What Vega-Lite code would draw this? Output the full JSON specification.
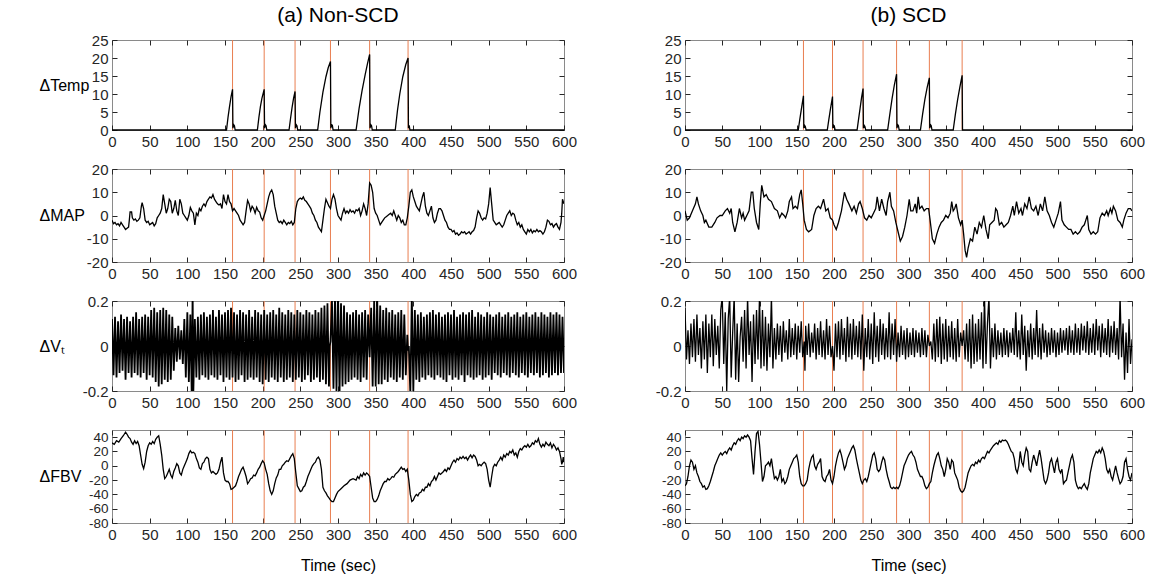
{
"$schema":"https://vega.github.io/schema/vega-lite/v6.json",
"padding":{"left":38,"top":4,"right":5,"bottom":5},
"config":{
"font":"Liberation Sans",
"view":{"stroke":"#8a8a8a","strokeWidth":1},
"axis":{"labelFont":"Liberation Sans","titleFont":"Liberation Sans","labelFontSize":15,"titleFontSize":16,"titleFontWeight":"normal","labelColor":"#262626","titleColor":"#000000","tickColor":"#262626","tickSize":-5,"tickWidth":1,"labelPadding":9,"domain":false,"grid":false,"labelFlush":false,"labelOverlap":false,"labelExpr":"replace(datum.label,'\u2212','-')"},
"axisY":{"titleAngle":0,"titleAlign":"left","titleBaseline":"middle","titleX":-73,"titleY":45},
"axisX":{"titlePadding":15},
"title":{"font":"Liberation Sans","fontSize":21,"fontWeight":"normal","color":"#000000"}
},
"datasets":{
"evA":[{"t":160},{"t":202},{"t":243},{"t":290},{"t":342},{"t":393}],
"evB":[{"t":159},{"t":198},{"t":239},{"t":284},{"t":328},{"t":372}],
"tempA":[{"t":0,"v":0},{"t":152,"v":0},{"t":154,"v":3.5},{"t":156,"v":6.5},{"t":158,"v":9.2},{"t":160,"v":11.3},{"t":160.5,"v":0.5},{"t":161.5,"v":1.5},{"t":162.5,"v":1.2},{"t":163.5,"v":0},{"t":193,"v":0},{"t":195,"v":3.5},{"t":197,"v":6.5},{"t":199,"v":8.8},{"t":202,"v":11.3},{"t":202.5,"v":0.5},{"t":203.5,"v":1.5},{"t":204.5,"v":1.2},{"t":205.5,"v":0},{"t":235,"v":0},{"t":237,"v":3.2},{"t":239,"v":6.2},{"t":241,"v":8.8},{"t":243,"v":10.7},{"t":243.5,"v":0.5},{"t":244.5,"v":1.5},{"t":245.5,"v":1.2},{"t":246.5,"v":0},{"t":273,"v":0},{"t":276,"v":5},{"t":280,"v":10.5},{"t":284,"v":14.8},{"t":287,"v":17.3},{"t":290,"v":19},{"t":290.5,"v":0.5},{"t":291.5,"v":1.5},{"t":292.5,"v":1.3},{"t":293.5,"v":0},{"t":324,"v":0},{"t":328,"v":6},{"t":332,"v":11},{"t":336,"v":15.3},{"t":339,"v":18.3},{"t":342,"v":21},{"t":342.5,"v":0.5},{"t":343.5,"v":1.5},{"t":344.5,"v":1.2},{"t":345.5,"v":0},{"t":376,"v":0},{"t":379,"v":5.5},{"t":382,"v":10},{"t":386,"v":14.8},{"t":390,"v":18.2},{"t":393,"v":20},{"t":393.5,"v":0.5},{"t":394.5,"v":1.3},{"t":395.5,"v":0},{"t":600,"v":0}],
"tempB":[{"t":0,"v":0},{"t":152,"v":0},{"t":154,"v":2.8},{"t":156,"v":5.5},{"t":158,"v":8.2},{"t":159,"v":9.5},{"t":159.5,"v":0.5},{"t":160.5,"v":1.3},{"t":161.5,"v":1},{"t":162.5,"v":0},{"t":191,"v":0},{"t":193,"v":2.8},{"t":195,"v":5.5},{"t":197,"v":8},{"t":198,"v":9.3},{"t":198.5,"v":0.5},{"t":199.5,"v":1.3},{"t":200.5,"v":1},{"t":201.5,"v":0},{"t":231,"v":0},{"t":233,"v":3},{"t":235,"v":6},{"t":237,"v":9},{"t":239,"v":11.5},{"t":239.5,"v":0.5},{"t":240.5,"v":1.3},{"t":241.5,"v":1},{"t":242.5,"v":0},{"t":272,"v":0},{"t":275,"v":4.5},{"t":278,"v":8.8},{"t":281,"v":12.5},{"t":284,"v":15.5},{"t":284.5,"v":0.5},{"t":285.5,"v":1.5},{"t":286.5,"v":1.2},{"t":287.5,"v":0},{"t":316,"v":0},{"t":319,"v":4.5},{"t":322,"v":8.5},{"t":325,"v":11.8},{"t":328,"v":14.5},{"t":328.5,"v":0.5},{"t":329.5,"v":1.5},{"t":330.5,"v":1.2},{"t":331.5,"v":0},{"t":360,"v":0},{"t":363,"v":4.5},{"t":366,"v":8.5},{"t":369,"v":12},{"t":372,"v":15.2},{"t":372.5,"v":0},{"t":600,"v":0}],
"mapA":[{"t":0,"v":-2},{"t":2,"v":-3.5},{"t":4,"v":-3},{"t":6,"v":-4},{"t":8,"v":-3.5},{"t":10,"v":-4.5},{"t":12,"v":-3},{"t":14,"v":-4},{"t":16,"v":-5},{"t":18,"v":-6},{"t":20,"v":-5.5},{"t":22,"v":-5},{"t":23,"v":-2},{"t":24,"v":1.5},{"t":26,"v":1.5},{"t":27,"v":-1},{"t":29,"v":-2},{"t":31,"v":-1.5},{"t":33,"v":-2.5},{"t":35,"v":-2},{"t":37,"v":-1},{"t":39,"v":4},{"t":40,"v":5.5},{"t":42,"v":3},{"t":44,"v":-2},{"t":46,"v":-3},{"t":48,"v":-2.5},{"t":50,"v":-4},{"t":52,"v":-3.5},{"t":54,"v":-3},{"t":56,"v":-4.5},{"t":58,"v":-3.5},{"t":60,"v":-1},{"t":62,"v":0},{"t":64,"v":1},{"t":66,"v":3},{"t":68,"v":9},{"t":70,"v":5},{"t":72,"v":1},{"t":74,"v":3},{"t":76,"v":7},{"t":78,"v":6},{"t":80,"v":1},{"t":82,"v":3},{"t":84,"v":6.5},{"t":86,"v":2},{"t":88,"v":0},{"t":90,"v":7},{"t":92,"v":5},{"t":94,"v":1},{"t":96,"v":0},{"t":98,"v":-1},{"t":100,"v":-2},{"t":102,"v":0},{"t":104,"v":3.5},{"t":106,"v":2},{"t":108,"v":1},{"t":110,"v":-4},{"t":112,"v":1},{"t":114,"v":0},{"t":116,"v":3},{"t":118,"v":2},{"t":120,"v":4},{"t":122,"v":5},{"t":124,"v":4},{"t":126,"v":6},{"t":128,"v":7},{"t":130,"v":8},{"t":132,"v":7.5},{"t":134,"v":9},{"t":136,"v":7},{"t":138,"v":6},{"t":140,"v":5},{"t":142,"v":4.5},{"t":144,"v":5},{"t":146,"v":3},{"t":148,"v":9},{"t":150,"v":6},{"t":152,"v":5},{"t":154,"v":9},{"t":156,"v":6},{"t":158,"v":5},{"t":160,"v":2},{"t":162,"v":3},{"t":164,"v":2},{"t":166,"v":1},{"t":168,"v":0},{"t":170,"v":-2},{"t":172,"v":-3},{"t":174,"v":-4},{"t":176,"v":-3},{"t":178,"v":2},{"t":180,"v":6.5},{"t":182,"v":5},{"t":184,"v":2},{"t":186,"v":4},{"t":188,"v":3},{"t":190,"v":1},{"t":192,"v":3.5},{"t":194,"v":2},{"t":196,"v":1.5},{"t":198,"v":-1},{"t":200,"v":-2},{"t":202,"v":0},{"t":204,"v":2},{"t":206,"v":5},{"t":208,"v":8},{"t":210,"v":10},{"t":212,"v":11},{"t":214,"v":9},{"t":216,"v":4},{"t":218,"v":1},{"t":220,"v":-2},{"t":222,"v":-3},{"t":224,"v":-2.5},{"t":226,"v":-3.5},{"t":228,"v":-2},{"t":230,"v":-3},{"t":232,"v":-4},{"t":234,"v":-3},{"t":236,"v":-3.5},{"t":238,"v":-2.5},{"t":240,"v":-4},{"t":242,"v":-3},{"t":244,"v":3},{"t":246,"v":6},{"t":248,"v":7},{"t":250,"v":7.5},{"t":252,"v":7},{"t":254,"v":8},{"t":256,"v":6.5},{"t":258,"v":6},{"t":260,"v":5},{"t":262,"v":4},{"t":264,"v":3},{"t":266,"v":1},{"t":268,"v":0},{"t":270,"v":-2},{"t":272,"v":-3},{"t":274,"v":-5},{"t":276,"v":-6},{"t":278,"v":-7},{"t":280,"v":-2},{"t":282,"v":3},{"t":284,"v":7},{"t":286,"v":5.5},{"t":288,"v":4},{"t":290,"v":3},{"t":292,"v":7},{"t":294,"v":9},{"t":296,"v":7},{"t":298,"v":3},{"t":300,"v":0},{"t":302,"v":-1},{"t":304,"v":-2},{"t":306,"v":1},{"t":308,"v":3},{"t":310,"v":1},{"t":312,"v":2},{"t":314,"v":1},{"t":316,"v":2.5},{"t":318,"v":1.5},{"t":320,"v":2},{"t":322,"v":1},{"t":324,"v":2.5},{"t":326,"v":2},{"t":328,"v":3},{"t":330,"v":0},{"t":332,"v":2},{"t":334,"v":5},{"t":336,"v":3},{"t":338,"v":0},{"t":340,"v":5},{"t":342,"v":14},{"t":344,"v":13},{"t":346,"v":10},{"t":348,"v":3},{"t":350,"v":1},{"t":352,"v":0},{"t":354,"v":-2},{"t":356,"v":-4},{"t":358,"v":-3},{"t":360,"v":-2},{"t":362,"v":-1},{"t":364,"v":-0.5},{"t":366,"v":0},{"t":368,"v":0.5},{"t":370,"v":1},{"t":372,"v":0},{"t":374,"v":2},{"t":376,"v":0},{"t":378,"v":-2},{"t":380,"v":0},{"t":382,"v":-1},{"t":384,"v":-3},{"t":386,"v":-2},{"t":388,"v":-4},{"t":390,"v":-4},{"t":392,"v":-1},{"t":394,"v":4},{"t":396,"v":10},{"t":398,"v":11},{"t":400,"v":8},{"t":402,"v":6},{"t":404,"v":4},{"t":406,"v":3},{"t":408,"v":2},{"t":410,"v":5},{"t":412,"v":8},{"t":414,"v":10},{"t":416,"v":4},{"t":418,"v":1},{"t":420,"v":0},{"t":422,"v":2},{"t":424,"v":4},{"t":426,"v":-1},{"t":428,"v":-3},{"t":430,"v":-2},{"t":432,"v":1},{"t":434,"v":3},{"t":436,"v":3},{"t":438,"v":2},{"t":440,"v":0},{"t":442,"v":-2},{"t":444,"v":-3},{"t":446,"v":-5},{"t":448,"v":-6},{"t":450,"v":-6},{"t":452,"v":-7},{"t":454,"v":-6.5},{"t":456,"v":-8},{"t":458,"v":-7.5},{"t":460,"v":-8.5},{"t":462,"v":-8},{"t":464,"v":-7},{"t":466,"v":-7.5},{"t":468,"v":-7},{"t":470,"v":-8},{"t":472,"v":-7.5},{"t":474,"v":-7},{"t":476,"v":-8},{"t":478,"v":-7},{"t":480,"v":-6.5},{"t":482,"v":-5},{"t":484,"v":-1},{"t":486,"v":2},{"t":488,"v":1},{"t":490,"v":-1},{"t":492,"v":-2},{"t":494,"v":-1},{"t":496,"v":-1.5},{"t":498,"v":1},{"t":500,"v":5},{"t":502,"v":12},{"t":504,"v":5},{"t":506,"v":-2},{"t":508,"v":-3},{"t":510,"v":-4},{"t":512,"v":-3.5},{"t":514,"v":-3},{"t":516,"v":-4},{"t":518,"v":-5},{"t":520,"v":-4},{"t":522,"v":-2},{"t":524,"v":0},{"t":526,"v":1},{"t":528,"v":2},{"t":530,"v":0},{"t":532,"v":1},{"t":534,"v":0.5},{"t":536,"v":-2},{"t":538,"v":-4},{"t":540,"v":-3},{"t":542,"v":-5},{"t":544,"v":-4},{"t":546,"v":-6},{"t":548,"v":-7},{"t":550,"v":-8},{"t":552,"v":-6},{"t":554,"v":-7},{"t":556,"v":-6},{"t":558,"v":-7.5},{"t":560,"v":-6.5},{"t":562,"v":-7},{"t":564,"v":-6},{"t":566,"v":-7},{"t":568,"v":-6.5},{"t":570,"v":-7},{"t":572,"v":-8},{"t":574,"v":-7},{"t":576,"v":-5},{"t":578,"v":-2},{"t":580,"v":-2.5},{"t":582,"v":-4},{"t":584,"v":-3.5},{"t":586,"v":-5},{"t":588,"v":-4},{"t":590,"v":-3.5},{"t":592,"v":-5},{"t":594,"v":-6},{"t":596,"v":-3},{"t":597,"v":1},{"t":598,"v":7},{"t":599,"v":6},{"t":600,"v":5}],
"mapB":[{"t":0,"v":2},{"t":3,"v":-2},{"t":6,"v":-1},{"t":10,"v":2},{"t":14,"v":5},{"t":16,"v":8},{"t":18,"v":5},{"t":21,"v":2},{"t":24,"v":0},{"t":26,"v":-3},{"t":28,"v":-2},{"t":32,"v":-5},{"t":36,"v":-5},{"t":40,"v":-3},{"t":43,"v":-1},{"t":47,"v":0},{"t":50,"v":0},{"t":54,"v":2},{"t":57,"v":3},{"t":60,"v":1},{"t":62,"v":3},{"t":64,"v":-3},{"t":67,"v":-7},{"t":70,"v":-3},{"t":73,"v":3},{"t":76,"v":-1},{"t":78,"v":1},{"t":80,"v":-2},{"t":83,"v":0},{"t":86,"v":2},{"t":89,"v":10},{"t":91,"v":10},{"t":93,"v":3},{"t":96,"v":-3},{"t":99,"v":-6},{"t":101,"v":5},{"t":103,"v":13},{"t":106,"v":8},{"t":109,"v":9},{"t":112,"v":7},{"t":116,"v":6},{"t":120,"v":3},{"t":124,"v":2},{"t":127,"v":-1},{"t":130,"v":1},{"t":133,"v":0},{"t":135,"v":-1},{"t":138,"v":2},{"t":140,"v":6},{"t":143,"v":8},{"t":145,"v":3},{"t":148,"v":4},{"t":151,"v":3},{"t":154,"v":9},{"t":156,"v":11},{"t":158,"v":5},{"t":160,"v":-2},{"t":163,"v":-6},{"t":166,"v":-7},{"t":170,"v":-6},{"t":173,"v":0},{"t":176,"v":3},{"t":179,"v":4},{"t":182,"v":3},{"t":186,"v":7},{"t":189,"v":2},{"t":192,"v":3},{"t":195,"v":-1},{"t":198,"v":-2},{"t":200,"v":-4},{"t":203,"v":-6},{"t":206,"v":-3},{"t":210,"v":2},{"t":214,"v":10},{"t":217,"v":7},{"t":220,"v":5},{"t":224,"v":2},{"t":227,"v":4},{"t":230,"v":1},{"t":233,"v":5},{"t":235,"v":6},{"t":238,"v":3},{"t":241,"v":-1},{"t":244,"v":-2},{"t":247,"v":0},{"t":250,"v":-1},{"t":253,"v":1},{"t":256,"v":3},{"t":258,"v":8},{"t":261,"v":2},{"t":264,"v":7},{"t":267,"v":3},{"t":270,"v":0},{"t":272,"v":6},{"t":275,"v":10},{"t":277,"v":4},{"t":280,"v":2},{"t":283,"v":-3},{"t":286,"v":-7},{"t":289,"v":-11},{"t":292,"v":-9},{"t":295,"v":-5},{"t":298,"v":0},{"t":301,"v":7},{"t":303,"v":2},{"t":306,"v":2},{"t":309,"v":5},{"t":311,"v":1},{"t":313,"v":8},{"t":315,"v":3},{"t":318,"v":4},{"t":321,"v":2},{"t":324,"v":3},{"t":327,"v":3},{"t":329,"v":-2},{"t":332,"v":-10},{"t":335,"v":-12},{"t":338,"v":-8},{"t":341,"v":-5},{"t":344,"v":-3},{"t":347,"v":-2},{"t":350,"v":0},{"t":353,"v":-1},{"t":356,"v":1},{"t":358,"v":6},{"t":360,"v":2},{"t":362,"v":3},{"t":364,"v":5},{"t":367,"v":-1},{"t":370,"v":-4},{"t":372,"v":-2},{"t":374,"v":-8},{"t":376,"v":-15},{"t":378,"v":-18},{"t":380,"v":-14},{"t":383,"v":-10},{"t":386,"v":-11},{"t":389,"v":-5},{"t":392,"v":-8},{"t":395,"v":-3},{"t":398,"v":-5},{"t":401,"v":0},{"t":404,"v":-6},{"t":407,"v":-10},{"t":409,"v":-4},{"t":412,"v":-3},{"t":415,"v":-2},{"t":417,"v":3},{"t":419,"v":2},{"t":422,"v":-4},{"t":425,"v":-3},{"t":428,"v":-5},{"t":431,"v":-4},{"t":434,"v":-3},{"t":437,"v":0},{"t":440,"v":4},{"t":442,"v":0},{"t":445,"v":6},{"t":448,"v":1},{"t":451,"v":3},{"t":453,"v":0},{"t":456,"v":5},{"t":459,"v":3},{"t":462,"v":8},{"t":465,"v":3},{"t":468,"v":2},{"t":471,"v":4},{"t":474,"v":0},{"t":477,"v":5},{"t":480,"v":2},{"t":483,"v":8},{"t":486,"v":2},{"t":489,"v":0},{"t":492,"v":-3},{"t":495,"v":-5},{"t":498,"v":-2},{"t":501,"v":1},{"t":504,"v":6},{"t":506,"v":-2},{"t":509,"v":-4},{"t":512,"v":-5},{"t":515,"v":-6},{"t":518,"v":-6},{"t":521,"v":-8},{"t":524,"v":-7},{"t":527,"v":-8},{"t":530,"v":-7},{"t":533,"v":-5},{"t":536,"v":-4},{"t":538,"v":-2},{"t":540,"v":0},{"t":542,"v":-6},{"t":545,"v":-8},{"t":548,"v":-7},{"t":551,"v":-8},{"t":554,"v":-7},{"t":557,"v":-1},{"t":560,"v":1},{"t":563,"v":0},{"t":566,"v":2},{"t":568,"v":0},{"t":571,"v":3},{"t":573,"v":1},{"t":575,"v":4},{"t":578,"v":2},{"t":581,"v":-2},{"t":584,"v":-3},{"t":587,"v":-5},{"t":589,"v":-2},{"t":592,"v":1},{"t":595,"v":3},{"t":598,"v":3},{"t":600,"v":2}],
"vtA":[{"t":0,"v":0.12},{"t":2,"v":-0.13},{"t":4,"v":0.13},{"t":6,"v":-0.14},{"t":8,"v":0.11},{"t":10,"v":-0.12},{"t":12,"v":0.14},{"t":14,"v":-0.11},{"t":16,"v":0.12},{"t":18,"v":-0.15},{"t":20,"v":0.13},{"t":22,"v":-0.12},{"t":24,"v":0.11},{"t":26,"v":-0.14},{"t":28,"v":0.13},{"t":30,"v":-0.12},{"t":32,"v":0.15},{"t":34,"v":-0.13},{"t":36,"v":0.12},{"t":38,"v":-0.14},{"t":40,"v":0.13},{"t":42,"v":-0.12},{"t":44,"v":0.14},{"t":46,"v":-0.15},{"t":48,"v":0.13},{"t":50,"v":-0.13},{"t":52,"v":0.16},{"t":54,"v":-0.14},{"t":56,"v":0.17},{"t":58,"v":-0.16},{"t":60,"v":0.15},{"t":62,"v":-0.18},{"t":64,"v":0.16},{"t":66,"v":-0.17},{"t":68,"v":0.17},{"t":70,"v":-0.15},{"t":72,"v":0.16},{"t":74,"v":-0.16},{"t":76,"v":0.14},{"t":78,"v":-0.15},{"t":80,"v":0.13},{"t":82,"v":-0.11},{"t":84,"v":0.08},{"t":86,"v":-0.07},{"t":88,"v":0.09},{"t":90,"v":-0.06},{"t":92,"v":0.07},{"t":94,"v":-0.08},{"t":96,"v":0.12},{"t":98,"v":-0.14},{"t":100,"v":0.15},{"t":102,"v":-0.16},{"t":104,"v":0.14},{"t":106,"v":-0.25},{"t":107,"v":0.25},{"t":108,"v":-0.2},{"t":110,"v":0.12},{"t":112,"v":-0.14},{"t":114,"v":0.13},{"t":116,"v":-0.15},{"t":118,"v":0.14},{"t":120,"v":-0.13},{"t":122,"v":0.15},{"t":124,"v":-0.14},{"t":126,"v":0.13},{"t":128,"v":-0.15},{"t":130,"v":0.14},{"t":132,"v":-0.13},{"t":134,"v":0.16},{"t":136,"v":-0.14},{"t":138,"v":0.13},{"t":140,"v":-0.15},{"t":142,"v":0.16},{"t":144,"v":-0.13},{"t":146,"v":0.14},{"t":148,"v":-0.16},{"t":150,"v":0.15},{"t":152,"v":-0.14},{"t":154,"v":0.16},{"t":156,"v":-0.15},{"t":158,"v":0.17},{"t":160,"v":-0.14},{"t":162,"v":0.15},{"t":164,"v":-0.16},{"t":166,"v":0.14},{"t":168,"v":-0.15},{"t":170,"v":0.16},{"t":172,"v":-0.13},{"t":174,"v":0.15},{"t":176,"v":-0.16},{"t":178,"v":0.14},{"t":180,"v":-0.15},{"t":182,"v":0.16},{"t":184,"v":-0.14},{"t":186,"v":0.13},{"t":188,"v":-0.15},{"t":190,"v":0.16},{"t":192,"v":-0.14},{"t":194,"v":0.15},{"t":196,"v":-0.16},{"t":198,"v":0.14},{"t":200,"v":-0.17},{"t":202,"v":0.16},{"t":204,"v":-0.15},{"t":206,"v":0.14},{"t":208,"v":-0.16},{"t":210,"v":0.15},{"t":212,"v":-0.14},{"t":214,"v":0.16},{"t":216,"v":-0.15},{"t":218,"v":0.14},{"t":220,"v":-0.16},{"t":222,"v":0.17},{"t":224,"v":-0.14},{"t":226,"v":0.15},{"t":228,"v":-0.16},{"t":230,"v":0.14},{"t":232,"v":-0.15},{"t":234,"v":0.16},{"t":236,"v":-0.14},{"t":238,"v":0.15},{"t":240,"v":-0.16},{"t":242,"v":0.14},{"t":244,"v":-0.15},{"t":246,"v":0.16},{"t":248,"v":-0.14},{"t":250,"v":0.15},{"t":252,"v":-0.16},{"t":254,"v":0.14},{"t":256,"v":-0.15},{"t":258,"v":0.16},{"t":260,"v":-0.13},{"t":262,"v":0.15},{"t":264,"v":-0.16},{"t":266,"v":0.14},{"t":268,"v":-0.15},{"t":270,"v":0.16},{"t":272,"v":-0.14},{"t":274,"v":0.15},{"t":276,"v":-0.16},{"t":278,"v":0.17},{"t":280,"v":-0.15},{"t":282,"v":0.18},{"t":284,"v":-0.17},{"t":286,"v":0.19},{"t":288,"v":-0.18},{"t":289,"v":0},{"t":290,"v":0.02},{"t":292,"v":0.2},{"t":294,"v":-0.19},{"t":296,"v":0.22},{"t":298,"v":-0.2},{"t":300,"v":0.25},{"t":302,"v":-0.22},{"t":304,"v":0.19},{"t":306,"v":-0.18},{"t":308,"v":0.18},{"t":310,"v":-0.17},{"t":312,"v":0.15},{"t":314,"v":-0.16},{"t":316,"v":0.14},{"t":318,"v":-0.15},{"t":320,"v":0.15},{"t":322,"v":-0.14},{"t":324,"v":0.16},{"t":326,"v":-0.15},{"t":328,"v":0.14},{"t":330,"v":-0.16},{"t":332,"v":0.15},{"t":334,"v":-0.14},{"t":336,"v":0.16},{"t":338,"v":-0.15},{"t":340,"v":0.14},{"t":342,"v":-0.05},{"t":344,"v":0.17},{"t":346,"v":-0.18},{"t":348,"v":0.2},{"t":350,"v":-0.18},{"t":352,"v":0.22},{"t":354,"v":-0.17},{"t":356,"v":0.18},{"t":358,"v":-0.17},{"t":360,"v":0.16},{"t":362,"v":-0.15},{"t":364,"v":0.17},{"t":366,"v":-0.16},{"t":368,"v":0.15},{"t":370,"v":-0.14},{"t":372,"v":0.16},{"t":374,"v":-0.15},{"t":376,"v":0.14},{"t":378,"v":-0.16},{"t":380,"v":0.15},{"t":382,"v":-0.14},{"t":384,"v":0.16},{"t":386,"v":-0.15},{"t":388,"v":0.14},{"t":390,"v":-0.13},{"t":392,"v":0.05},{"t":393,"v":-0.02},{"t":394,"v":0},{"t":396,"v":-0.21},{"t":398,"v":0.22},{"t":400,"v":-0.2},{"t":402,"v":0.16},{"t":404,"v":-0.15},{"t":406,"v":0.14},{"t":408,"v":-0.16},{"t":410,"v":0.15},{"t":412,"v":-0.14},{"t":414,"v":0.13},{"t":416,"v":-0.15},{"t":418,"v":0.14},{"t":420,"v":-0.13},{"t":422,"v":0.15},{"t":424,"v":-0.14},{"t":426,"v":0.16},{"t":428,"v":-0.15},{"t":430,"v":0.14},{"t":432,"v":-0.13},{"t":434,"v":0.15},{"t":436,"v":-0.14},{"t":438,"v":0.13},{"t":440,"v":-0.15},{"t":442,"v":0.14},{"t":444,"v":-0.16},{"t":446,"v":0.15},{"t":448,"v":-0.13},{"t":450,"v":0.14},{"t":452,"v":-0.15},{"t":454,"v":0.16},{"t":456,"v":-0.14},{"t":458,"v":0.13},{"t":460,"v":-0.15},{"t":462,"v":0.14},{"t":464,"v":-0.13},{"t":466,"v":0.15},{"t":468,"v":-0.16},{"t":470,"v":0.14},{"t":472,"v":-0.13},{"t":474,"v":0.15},{"t":476,"v":-0.14},{"t":478,"v":0.16},{"t":480,"v":-0.15},{"t":482,"v":0.13},{"t":484,"v":-0.14},{"t":486,"v":0.15},{"t":488,"v":-0.13},{"t":490,"v":0.14},{"t":492,"v":-0.15},{"t":494,"v":0.13},{"t":496,"v":-0.14},{"t":498,"v":0.15},{"t":500,"v":-0.13},{"t":502,"v":0.14},{"t":504,"v":-0.15},{"t":506,"v":0.13},{"t":508,"v":-0.12},{"t":510,"v":0.14},{"t":512,"v":-0.13},{"t":514,"v":0.15},{"t":516,"v":-0.14},{"t":518,"v":0.13},{"t":520,"v":-0.12},{"t":522,"v":0.14},{"t":524,"v":-0.13},{"t":526,"v":0.15},{"t":528,"v":-0.14},{"t":530,"v":0.13},{"t":532,"v":-0.12},{"t":534,"v":0.14},{"t":536,"v":-0.13},{"t":538,"v":0.15},{"t":540,"v":-0.14},{"t":542,"v":0.13},{"t":544,"v":-0.12},{"t":546,"v":0.14},{"t":548,"v":-0.13},{"t":550,"v":0.15},{"t":552,"v":-0.14},{"t":554,"v":0.13},{"t":556,"v":-0.12},{"t":558,"v":0.14},{"t":560,"v":-0.13},{"t":562,"v":0.15},{"t":564,"v":-0.12},{"t":566,"v":0.13},{"t":568,"v":-0.14},{"t":570,"v":0.15},{"t":572,"v":-0.13},{"t":574,"v":0.14},{"t":576,"v":-0.12},{"t":578,"v":0.13},{"t":580,"v":-0.14},{"t":582,"v":0.15},{"t":584,"v":-0.13},{"t":586,"v":0.14},{"t":588,"v":-0.12},{"t":590,"v":0.15},{"t":592,"v":-0.13},{"t":594,"v":0.14},{"t":596,"v":-0.12},{"t":598,"v":0.13},{"t":600,"v":-0.12}],
"vtB":[{"t":0,"v":0.17},{"t":2,"v":-0.06},{"t":4,"v":0.07},{"t":6,"v":-0.08},{"t":8,"v":0.1},{"t":10,"v":-0.05},{"t":12,"v":0.12},{"t":14,"v":-0.07},{"t":16,"v":0.14},{"t":18,"v":-0.04},{"t":20,"v":0.08},{"t":22,"v":-0.1},{"t":24,"v":0.11},{"t":26,"v":-0.06},{"t":28,"v":0.14},{"t":30,"v":-0.12},{"t":32,"v":0.1},{"t":34,"v":-0.05},{"t":36,"v":0.14},{"t":38,"v":-0.09},{"t":40,"v":0.12},{"t":42,"v":-0.04},{"t":44,"v":0.09},{"t":46,"v":-0.1},{"t":48,"v":0.16},{"t":50,"v":0.22},{"t":52,"v":-0.08},{"t":54,"v":0.15},{"t":56,"v":-0.2},{"t":58,"v":0.12},{"t":60,"v":0.22},{"t":62,"v":-0.14},{"t":64,"v":0.06},{"t":66,"v":0.22},{"t":68,"v":-0.15},{"t":70,"v":0.1},{"t":72,"v":-0.16},{"t":74,"v":0.04},{"t":76,"v":0.13},{"t":78,"v":-0.07},{"t":80,"v":0.16},{"t":82,"v":-0.1},{"t":84,"v":0.22},{"t":86,"v":-0.04},{"t":88,"v":0.11},{"t":90,"v":-0.16},{"t":92,"v":0.14},{"t":94,"v":-0.08},{"t":96,"v":0.16},{"t":98,"v":-0.06},{"t":100,"v":0.22},{"t":102,"v":-0.1},{"t":104,"v":0.16},{"t":106,"v":-0.09},{"t":108,"v":0.13},{"t":110,"v":-0.11},{"t":112,"v":0.1},{"t":114,"v":-0.05},{"t":116,"v":0.22},{"t":118,"v":-0.1},{"t":120,"v":0.08},{"t":122,"v":-0.06},{"t":124,"v":0.1},{"t":126,"v":-0.04},{"t":128,"v":0.09},{"t":130,"v":-0.07},{"t":132,"v":0.11},{"t":134,"v":-0.03},{"t":136,"v":0.07},{"t":138,"v":-0.06},{"t":140,"v":0.12},{"t":142,"v":-0.05},{"t":144,"v":0.08},{"t":146,"v":-0.04},{"t":148,"v":0.1},{"t":150,"v":-0.06},{"t":152,"v":0.09},{"t":154,"v":-0.03},{"t":156,"v":0.11},{"t":158,"v":-0.05},{"t":160,"v":0.02},{"t":161,"v":-0.11},{"t":162,"v":0.09},{"t":164,"v":-0.04},{"t":166,"v":0.1},{"t":168,"v":-0.05},{"t":170,"v":0.06},{"t":172,"v":-0.03},{"t":174,"v":0.1},{"t":176,"v":-0.06},{"t":178,"v":0.08},{"t":180,"v":-0.04},{"t":182,"v":0.11},{"t":184,"v":-0.05},{"t":186,"v":0.07},{"t":188,"v":-0.06},{"t":190,"v":0.12},{"t":192,"v":-0.04},{"t":194,"v":0.09},{"t":196,"v":-0.05},{"t":198,"v":0},{"t":200,"v":-0.11},{"t":202,"v":0.1},{"t":204,"v":-0.05},{"t":206,"v":0.11},{"t":208,"v":-0.06},{"t":210,"v":0.12},{"t":212,"v":-0.04},{"t":214,"v":0.08},{"t":216,"v":-0.07},{"t":218,"v":0.13},{"t":220,"v":-0.05},{"t":222,"v":0.1},{"t":224,"v":-0.06},{"t":226,"v":0.12},{"t":228,"v":-0.04},{"t":230,"v":0.09},{"t":232,"v":-0.05},{"t":234,"v":0.11},{"t":236,"v":-0.06},{"t":238,"v":0.14},{"t":240,"v":-0.11},{"t":242,"v":0.08},{"t":244,"v":-0.05},{"t":246,"v":0.12},{"t":248,"v":-0.06},{"t":250,"v":0.1},{"t":252,"v":-0.08},{"t":254,"v":0.15},{"t":256,"v":-0.05},{"t":258,"v":0.09},{"t":260,"v":-0.07},{"t":262,"v":0.12},{"t":264,"v":-0.04},{"t":266,"v":0.1},{"t":268,"v":-0.06},{"t":270,"v":0.08},{"t":272,"v":-0.05},{"t":274,"v":0.15},{"t":276,"v":-0.06},{"t":278,"v":0.1},{"t":280,"v":-0.04},{"t":282,"v":0.12},{"t":284,"v":-0.07},{"t":286,"v":0.06},{"t":288,"v":-0.05},{"t":290,"v":0.09},{"t":292,"v":-0.04},{"t":294,"v":0.07},{"t":296,"v":-0.06},{"t":298,"v":0.08},{"t":300,"v":-0.05},{"t":302,"v":0.06},{"t":304,"v":-0.04},{"t":306,"v":0.08},{"t":308,"v":-0.05},{"t":310,"v":0.07},{"t":312,"v":-0.03},{"t":314,"v":0.06},{"t":316,"v":-0.05},{"t":318,"v":0.08},{"t":320,"v":-0.04},{"t":322,"v":0.07},{"t":324,"v":-0.05},{"t":326,"v":0.05},{"t":328,"v":0},{"t":330,"v":0.02},{"t":332,"v":-0.06},{"t":334,"v":0.1},{"t":336,"v":-0.07},{"t":338,"v":0.12},{"t":340,"v":-0.05},{"t":342,"v":0.13},{"t":344,"v":-0.08},{"t":346,"v":0.1},{"t":348,"v":-0.06},{"t":350,"v":0.12},{"t":352,"v":-0.07},{"t":354,"v":0.09},{"t":356,"v":-0.05},{"t":358,"v":0.11},{"t":360,"v":-0.06},{"t":362,"v":0.08},{"t":364,"v":-0.07},{"t":366,"v":0.12},{"t":368,"v":-0.05},{"t":370,"v":0.06},{"t":372,"v":0},{"t":374,"v":0.07},{"t":376,"v":-0.06},{"t":378,"v":0.1},{"t":380,"v":-0.07},{"t":382,"v":0.12},{"t":384,"v":-0.1},{"t":386,"v":0.14},{"t":388,"v":-0.08},{"t":390,"v":0.1},{"t":392,"v":-0.07},{"t":394,"v":0.12},{"t":396,"v":-0.06},{"t":398,"v":0.15},{"t":400,"v":-0.1},{"t":402,"v":0.22},{"t":404,"v":-0.08},{"t":406,"v":0.1},{"t":408,"v":0.22},{"t":410,"v":-0.1},{"t":412,"v":0.08},{"t":414,"v":-0.05},{"t":416,"v":0.1},{"t":418,"v":-0.06},{"t":420,"v":0.07},{"t":422,"v":-0.04},{"t":424,"v":0.06},{"t":426,"v":-0.05},{"t":428,"v":0.08},{"t":430,"v":-0.04},{"t":432,"v":0.07},{"t":434,"v":-0.05},{"t":436,"v":0.06},{"t":438,"v":-0.03},{"t":440,"v":0.08},{"t":442,"v":-0.04},{"t":444,"v":0.15},{"t":446,"v":-0.05},{"t":448,"v":0.07},{"t":450,"v":-0.06},{"t":452,"v":0.14},{"t":454,"v":-0.04},{"t":456,"v":0.09},{"t":458,"v":-0.11},{"t":460,"v":0.07},{"t":462,"v":-0.05},{"t":464,"v":0.1},{"t":466,"v":-0.06},{"t":468,"v":0.08},{"t":470,"v":-0.04},{"t":472,"v":0.16},{"t":474,"v":-0.05},{"t":476,"v":0.08},{"t":478,"v":-0.06},{"t":480,"v":0.1},{"t":482,"v":-0.03},{"t":484,"v":0.07},{"t":486,"v":-0.05},{"t":488,"v":0.06},{"t":490,"v":-0.04},{"t":492,"v":0.08},{"t":494,"v":-0.03},{"t":496,"v":0.07},{"t":498,"v":-0.05},{"t":500,"v":0.06},{"t":502,"v":-0.04},{"t":504,"v":0.08},{"t":506,"v":-0.03},{"t":508,"v":0.07},{"t":510,"v":-0.02},{"t":512,"v":0.08},{"t":514,"v":-0.04},{"t":516,"v":0.09},{"t":518,"v":-0.03},{"t":520,"v":0.07},{"t":522,"v":-0.04},{"t":524,"v":0.1},{"t":526,"v":-0.03},{"t":528,"v":0.08},{"t":530,"v":-0.04},{"t":532,"v":0.1},{"t":534,"v":-0.02},{"t":536,"v":0.09},{"t":538,"v":-0.03},{"t":540,"v":0.11},{"t":542,"v":-0.04},{"t":544,"v":0.08},{"t":546,"v":-0.03},{"t":548,"v":0.1},{"t":550,"v":-0.04},{"t":552,"v":0.12},{"t":554,"v":-0.02},{"t":556,"v":0.09},{"t":558,"v":-0.05},{"t":560,"v":0.1},{"t":562,"v":-0.03},{"t":564,"v":0.08},{"t":566,"v":-0.04},{"t":568,"v":0.12},{"t":570,"v":-0.05},{"t":572,"v":0.09},{"t":574,"v":-0.03},{"t":576,"v":0.11},{"t":578,"v":-0.04},{"t":580,"v":0.08},{"t":582,"v":-0.06},{"t":584,"v":0.22},{"t":586,"v":-0.05},{"t":588,"v":0.1},{"t":590,"v":-0.15},{"t":592,"v":0.06},{"t":594,"v":-0.12},{"t":596,"v":0.12},{"t":598,"v":-0.08},{"t":600,"v":0.03}],
"fbvA":[{"t":0,"v":32},{"t":3,"v":30},{"t":6,"v":35},{"t":9,"v":33},{"t":12,"v":38},{"t":15,"v":42},{"t":18,"v":47},{"t":20,"v":44},{"t":22,"v":40},{"t":24,"v":38},{"t":26,"v":33},{"t":28,"v":30},{"t":30,"v":35},{"t":32,"v":31},{"t":34,"v":34},{"t":36,"v":28},{"t":38,"v":15},{"t":40,"v":2},{"t":42,"v":-4},{"t":44,"v":5},{"t":46,"v":20},{"t":48,"v":28},{"t":50,"v":32},{"t":52,"v":30},{"t":54,"v":34},{"t":56,"v":31},{"t":58,"v":37},{"t":60,"v":40},{"t":62,"v":42},{"t":64,"v":30},{"t":66,"v":15},{"t":68,"v":-5},{"t":70,"v":-18},{"t":72,"v":-15},{"t":74,"v":-10},{"t":76,"v":-5},{"t":78,"v":-13},{"t":80,"v":-17},{"t":82,"v":-8},{"t":84,"v":-3},{"t":86,"v":3},{"t":88,"v":0},{"t":90,"v":-10},{"t":92,"v":-13},{"t":94,"v":-5},{"t":96,"v":0},{"t":98,"v":5},{"t":100,"v":10},{"t":102,"v":17},{"t":104,"v":21},{"t":106,"v":18},{"t":108,"v":19},{"t":110,"v":17},{"t":112,"v":10},{"t":114,"v":5},{"t":116,"v":-3},{"t":118,"v":-5},{"t":120,"v":3},{"t":122,"v":5},{"t":124,"v":10},{"t":126,"v":12},{"t":128,"v":10},{"t":130,"v":-5},{"t":132,"v":-10},{"t":134,"v":-8},{"t":136,"v":-10},{"t":138,"v":-12},{"t":140,"v":-10},{"t":142,"v":-5},{"t":144,"v":5},{"t":146,"v":12},{"t":148,"v":-10},{"t":150,"v":-20},{"t":152,"v":-22},{"t":154,"v":-22},{"t":156,"v":-25},{"t":158,"v":-33},{"t":160,"v":-32},{"t":162,"v":-30},{"t":164,"v":-28},{"t":166,"v":-22},{"t":168,"v":-15},{"t":170,"v":-10},{"t":172,"v":-5},{"t":174,"v":-2},{"t":176,"v":-8},{"t":178,"v":-15},{"t":180,"v":-25},{"t":182,"v":-22},{"t":184,"v":-18},{"t":186,"v":-17},{"t":188,"v":-13},{"t":190,"v":-14},{"t":192,"v":-10},{"t":194,"v":-5},{"t":196,"v":-2},{"t":198,"v":3},{"t":200,"v":7},{"t":202,"v":4},{"t":204,"v":-5},{"t":206,"v":-12},{"t":208,"v":-25},{"t":210,"v":-35},{"t":212,"v":-40},{"t":214,"v":-35},{"t":216,"v":-25},{"t":218,"v":-17},{"t":220,"v":-13},{"t":222,"v":-5},{"t":224,"v":-5},{"t":226,"v":0},{"t":228,"v":2},{"t":230,"v":5},{"t":232,"v":7},{"t":234,"v":6},{"t":236,"v":10},{"t":238,"v":14},{"t":240,"v":17},{"t":242,"v":10},{"t":244,"v":-10},{"t":246,"v":-28},{"t":248,"v":-32},{"t":250,"v":-36},{"t":252,"v":-35},{"t":254,"v":-30},{"t":256,"v":-28},{"t":258,"v":-22},{"t":260,"v":-15},{"t":262,"v":-10},{"t":264,"v":-5},{"t":266,"v":0},{"t":268,"v":3},{"t":270,"v":5},{"t":272,"v":10},{"t":274,"v":12},{"t":276,"v":8},{"t":278,"v":-5},{"t":280,"v":-30},{"t":282,"v":-35},{"t":284,"v":-38},{"t":286,"v":-42},{"t":288,"v":-45},{"t":290,"v":-48},{"t":292,"v":-50},{"t":294,"v":-50},{"t":296,"v":-45},{"t":298,"v":-40},{"t":300,"v":-36},{"t":304,"v":-32},{"t":308,"v":-28},{"t":312,"v":-25},{"t":316,"v":-20},{"t":320,"v":-18},{"t":324,"v":-20},{"t":326,"v":-15},{"t":328,"v":-18},{"t":330,"v":-12},{"t":332,"v":-15},{"t":334,"v":-10},{"t":336,"v":-13},{"t":338,"v":-10},{"t":340,"v":-12},{"t":342,"v":-15},{"t":344,"v":-30},{"t":346,"v":-45},{"t":348,"v":-50},{"t":350,"v":-50},{"t":352,"v":-47},{"t":354,"v":-42},{"t":356,"v":-35},{"t":358,"v":-30},{"t":360,"v":-25},{"t":362,"v":-22},{"t":364,"v":-22},{"t":366,"v":-18},{"t":368,"v":-20},{"t":370,"v":-18},{"t":372,"v":-15},{"t":374,"v":-16},{"t":376,"v":-12},{"t":378,"v":-10},{"t":380,"v":-8},{"t":382,"v":-5},{"t":384,"v":-2},{"t":386,"v":-5},{"t":388,"v":-4},{"t":390,"v":-8},{"t":392,"v":-5},{"t":394,"v":-20},{"t":396,"v":-40},{"t":398,"v":-50},{"t":400,"v":-48},{"t":402,"v":-43},{"t":404,"v":-40},{"t":406,"v":-42},{"t":408,"v":-38},{"t":410,"v":-37},{"t":412,"v":-33},{"t":414,"v":-35},{"t":416,"v":-30},{"t":418,"v":-30},{"t":420,"v":-25},{"t":422,"v":-28},{"t":424,"v":-22},{"t":426,"v":-20},{"t":428,"v":-15},{"t":430,"v":-20},{"t":432,"v":-15},{"t":434,"v":-10},{"t":436,"v":-12},{"t":438,"v":-10},{"t":440,"v":-8},{"t":442,"v":-5},{"t":444,"v":-8},{"t":446,"v":-3},{"t":448,"v":-5},{"t":450,"v":0},{"t":452,"v":5},{"t":454,"v":8},{"t":456,"v":5},{"t":458,"v":10},{"t":460,"v":8},{"t":462,"v":12},{"t":464,"v":10},{"t":466,"v":13},{"t":468,"v":10},{"t":470,"v":12},{"t":472,"v":8},{"t":474,"v":12},{"t":476,"v":15},{"t":478,"v":11},{"t":480,"v":15},{"t":482,"v":13},{"t":484,"v":8},{"t":486,"v":0},{"t":488,"v":2},{"t":490,"v":0},{"t":492,"v":3},{"t":494,"v":5},{"t":496,"v":3},{"t":498,"v":-5},{"t":500,"v":-20},{"t":502,"v":-30},{"t":504,"v":-15},{"t":506,"v":-2},{"t":508,"v":2},{"t":510,"v":0},{"t":512,"v":5},{"t":514,"v":8},{"t":516,"v":12},{"t":518,"v":8},{"t":520,"v":15},{"t":522,"v":12},{"t":524,"v":17},{"t":526,"v":15},{"t":528,"v":20},{"t":530,"v":18},{"t":532,"v":22},{"t":534,"v":15},{"t":536,"v":18},{"t":538,"v":12},{"t":540,"v":20},{"t":542,"v":24},{"t":544,"v":22},{"t":546,"v":26},{"t":548,"v":28},{"t":550,"v":26},{"t":552,"v":30},{"t":554,"v":26},{"t":556,"v":28},{"t":558,"v":32},{"t":560,"v":30},{"t":562,"v":35},{"t":564,"v":33},{"t":566,"v":38},{"t":568,"v":30},{"t":570,"v":26},{"t":572,"v":30},{"t":574,"v":27},{"t":576,"v":33},{"t":578,"v":30},{"t":580,"v":28},{"t":582,"v":32},{"t":584,"v":25},{"t":586,"v":30},{"t":588,"v":27},{"t":590,"v":22},{"t":592,"v":25},{"t":594,"v":20},{"t":596,"v":10},{"t":597,"v":2},{"t":598,"v":5},{"t":599,"v":12},{"t":600,"v":5}],
"fbvB":[{"t":0,"v":-28},{"t":2,"v":-25},{"t":4,"v":-15},{"t":6,"v":0},{"t":8,"v":8},{"t":10,"v":5},{"t":12,"v":-5},{"t":14,"v":0},{"t":16,"v":-10},{"t":18,"v":-15},{"t":20,"v":-22},{"t":22,"v":-25},{"t":24,"v":-30},{"t":26,"v":-28},{"t":28,"v":-33},{"t":30,"v":-32},{"t":32,"v":-28},{"t":34,"v":-22},{"t":36,"v":-15},{"t":38,"v":-8},{"t":40,"v":0},{"t":42,"v":5},{"t":44,"v":10},{"t":46,"v":15},{"t":48,"v":18},{"t":50,"v":15},{"t":52,"v":18},{"t":54,"v":20},{"t":56,"v":17},{"t":58,"v":22},{"t":60,"v":25},{"t":62,"v":22},{"t":64,"v":28},{"t":66,"v":32},{"t":68,"v":30},{"t":70,"v":35},{"t":72,"v":38},{"t":74,"v":35},{"t":76,"v":40},{"t":78,"v":38},{"t":80,"v":42},{"t":82,"v":40},{"t":84,"v":43},{"t":86,"v":40},{"t":88,"v":35},{"t":90,"v":10},{"t":92,"v":-12},{"t":94,"v":20},{"t":96,"v":45},{"t":98,"v":48},{"t":100,"v":30},{"t":102,"v":5},{"t":104,"v":-22},{"t":106,"v":-15},{"t":108,"v":0},{"t":110,"v":2},{"t":112,"v":5},{"t":114,"v":0},{"t":116,"v":10},{"t":118,"v":-5},{"t":120,"v":-18},{"t":122,"v":-15},{"t":124,"v":-20},{"t":126,"v":-15},{"t":128,"v":-5},{"t":130,"v":-22},{"t":132,"v":-18},{"t":134,"v":-25},{"t":136,"v":-22},{"t":138,"v":-15},{"t":140,"v":-5},{"t":142,"v":0},{"t":144,"v":5},{"t":146,"v":10},{"t":148,"v":12},{"t":150,"v":15},{"t":152,"v":5},{"t":154,"v":-15},{"t":156,"v":-25},{"t":158,"v":-28},{"t":160,"v":-28},{"t":162,"v":-25},{"t":164,"v":-20},{"t":166,"v":-5},{"t":168,"v":5},{"t":170,"v":12},{"t":172,"v":15},{"t":174,"v":0},{"t":176,"v":-5},{"t":178,"v":2},{"t":180,"v":5},{"t":182,"v":10},{"t":184,"v":-15},{"t":186,"v":-20},{"t":188,"v":-22},{"t":190,"v":-15},{"t":192,"v":-12},{"t":194,"v":-5},{"t":196,"v":-20},{"t":198,"v":-25},{"t":200,"v":-15},{"t":202,"v":0},{"t":204,"v":10},{"t":206,"v":18},{"t":208,"v":22},{"t":210,"v":15},{"t":212,"v":5},{"t":214,"v":-5},{"t":216,"v":0},{"t":218,"v":10},{"t":220,"v":15},{"t":222,"v":20},{"t":224,"v":25},{"t":226,"v":28},{"t":228,"v":22},{"t":230,"v":10},{"t":232,"v":0},{"t":234,"v":-10},{"t":236,"v":-20},{"t":238,"v":-25},{"t":240,"v":-20},{"t":242,"v":-18},{"t":244,"v":-22},{"t":246,"v":-15},{"t":248,"v":-5},{"t":250,"v":5},{"t":252,"v":15},{"t":254,"v":18},{"t":256,"v":10},{"t":258,"v":-5},{"t":260,"v":-8},{"t":262,"v":-5},{"t":264,"v":5},{"t":266,"v":12},{"t":268,"v":8},{"t":270,"v":-5},{"t":272,"v":-15},{"t":274,"v":-22},{"t":276,"v":-30},{"t":278,"v":-32},{"t":280,"v":-30},{"t":282,"v":-32},{"t":284,"v":-30},{"t":286,"v":-32},{"t":288,"v":-28},{"t":290,"v":-20},{"t":292,"v":-10},{"t":294,"v":0},{"t":296,"v":5},{"t":298,"v":10},{"t":300,"v":15},{"t":302,"v":18},{"t":304,"v":20},{"t":306,"v":15},{"t":308,"v":12},{"t":310,"v":5},{"t":312,"v":-5},{"t":314,"v":-10},{"t":316,"v":-15},{"t":318,"v":-15},{"t":320,"v":-20},{"t":322,"v":-28},{"t":324,"v":-32},{"t":326,"v":-30},{"t":328,"v":-25},{"t":330,"v":-22},{"t":332,"v":-10},{"t":334,"v":0},{"t":336,"v":8},{"t":338,"v":15},{"t":340,"v":18},{"t":342,"v":10},{"t":344,"v":0},{"t":346,"v":-5},{"t":348,"v":-15},{"t":350,"v":-5},{"t":352,"v":10},{"t":354,"v":5},{"t":356,"v":-5},{"t":358,"v":8},{"t":360,"v":5},{"t":362,"v":-10},{"t":364,"v":-15},{"t":366,"v":-20},{"t":368,"v":-30},{"t":370,"v":-35},{"t":372,"v":-37},{"t":374,"v":-35},{"t":376,"v":-30},{"t":378,"v":-20},{"t":380,"v":-10},{"t":382,"v":-5},{"t":384,"v":0},{"t":386,"v":2},{"t":388,"v":0},{"t":390,"v":5},{"t":392,"v":3},{"t":394,"v":8},{"t":396,"v":5},{"t":398,"v":10},{"t":400,"v":12},{"t":402,"v":10},{"t":404,"v":15},{"t":406,"v":20},{"t":408,"v":18},{"t":410,"v":22},{"t":412,"v":25},{"t":414,"v":28},{"t":416,"v":30},{"t":418,"v":32},{"t":420,"v":30},{"t":422,"v":35},{"t":424,"v":33},{"t":426,"v":36},{"t":428,"v":35},{"t":430,"v":36},{"t":432,"v":34},{"t":434,"v":30},{"t":436,"v":25},{"t":438,"v":20},{"t":440,"v":18},{"t":442,"v":10},{"t":444,"v":-5},{"t":446,"v":-10},{"t":448,"v":0},{"t":450,"v":20},{"t":452,"v":5},{"t":454,"v":0},{"t":456,"v":15},{"t":458,"v":25},{"t":460,"v":20},{"t":462,"v":-5},{"t":464,"v":-8},{"t":466,"v":5},{"t":468,"v":15},{"t":470,"v":8},{"t":472,"v":0},{"t":474,"v":12},{"t":476,"v":22},{"t":478,"v":10},{"t":480,"v":-5},{"t":482,"v":-20},{"t":484,"v":-25},{"t":486,"v":-20},{"t":488,"v":-10},{"t":490,"v":5},{"t":492,"v":10},{"t":494,"v":0},{"t":496,"v":-10},{"t":498,"v":5},{"t":500,"v":10},{"t":502,"v":-5},{"t":504,"v":-10},{"t":506,"v":-5},{"t":508,"v":-25},{"t":510,"v":-22},{"t":512,"v":-20},{"t":514,"v":-10},{"t":516,"v":0},{"t":518,"v":10},{"t":520,"v":15},{"t":522,"v":5},{"t":524,"v":-20},{"t":526,"v":-28},{"t":528,"v":-32},{"t":530,"v":-30},{"t":532,"v":-32},{"t":534,"v":-28},{"t":536,"v":-25},{"t":538,"v":-30},{"t":540,"v":-33},{"t":542,"v":-25},{"t":544,"v":-10},{"t":546,"v":0},{"t":548,"v":10},{"t":550,"v":15},{"t":552,"v":20},{"t":554,"v":18},{"t":556,"v":22},{"t":558,"v":18},{"t":560,"v":25},{"t":562,"v":20},{"t":564,"v":10},{"t":566,"v":-5},{"t":568,"v":-10},{"t":570,"v":-5},{"t":572,"v":-15},{"t":574,"v":-20},{"t":576,"v":-10},{"t":578,"v":0},{"t":580,"v":-10},{"t":582,"v":-18},{"t":584,"v":-25},{"t":586,"v":-22},{"t":588,"v":-15},{"t":590,"v":5},{"t":592,"v":10},{"t":594,"v":-5},{"t":596,"v":-15},{"t":598,"v":-20},{"t":600,"v":-10}]
},
"spacing":76,
"hconcat":[
{"bounds":"flush","spacing":39,"vconcat":[
{"width":452,"height":90,"title":{"text":"(a) Non-SCD","frame":"group","anchor":"middle","offset":7},
"layer":[
{"data":{"name":"evA"},"mark":{"type":"rule","color":"#e97e50","strokeWidth":1},"encoding":{"x":{"field":"t","type":"quantitative","scale":{"domain":[0,600],"nice":false},"axis":null}}},
{"data":{"name":"tempA"},"mark":{"type":"line","color":"#000000","strokeWidth":1.3},"encoding":{"x":{"field":"t","type":"quantitative","scale":{"domain":[0,600],"nice":false},"axis":{"values":[0,50,100,150,200,250,300,350,400,450,500,550,600],"title":null}},"y":{"field":"v","type":"quantitative","scale":{"domain":[0,25],"nice":false},"axis":{"values":[0,5,10,15,20,25],"title":"ΔTemp"}}}},
{"data":{"name":"tempA"},"mark":{"type":"line","opacity":0,"clip":true},"encoding":{"x":{"field":"t","type":"quantitative","scale":{"domain":[0,600],"nice":false},"axis":{"orient":"top","labels":false,"values":[0,50,100,150,200,250,300,350,400,450,500,550,600],"title":null}},"y":{"field":"v","type":"quantitative","scale":{"domain":[0,25],"nice":false},"axis":{"orient":"right","labels":false,"values":[0,5,10,15,20,25],"title":null}}}}
],"resolve":{"axis":{"x":"independent","y":"independent"}}},
{"width":452,"height":93,
"layer":[
{"data":{"name":"evA"},"mark":{"type":"rule","color":"#e97e50","strokeWidth":1},"encoding":{"x":{"field":"t","type":"quantitative","scale":{"domain":[0,600],"nice":false},"axis":null}}},
{"data":{"name":"mapA"},"mark":{"type":"line","color":"#000000","strokeWidth":1.3,"clip":true},"encoding":{"x":{"field":"t","type":"quantitative","scale":{"domain":[0,600],"nice":false},"axis":{"values":[0,50,100,150,200,250,300,350,400,450,500,550,600],"title":null}},"y":{"field":"v","type":"quantitative","scale":{"domain":[-20,20],"nice":false},"axis":{"values":[-20,-10,0,10,20],"title":"ΔMAP","titleY":46}}}},
{"data":{"name":"mapA"},"mark":{"type":"line","opacity":0,"clip":true},"encoding":{"x":{"field":"t","type":"quantitative","scale":{"domain":[0,600],"nice":false},"axis":{"orient":"top","labels":false,"values":[0,50,100,150,200,250,300,350,400,450,500,550,600],"title":null}},"y":{"field":"v","type":"quantitative","scale":{"domain":[-20,20],"nice":false},"axis":{"orient":"right","labels":false,"values":[-20,-10,0,10,20],"title":null}}}}
],"resolve":{"axis":{"x":"independent","y":"independent"}}},
{"width":452,"height":90,
"layer":[
{"data":{"name":"evA"},"mark":{"type":"rule","color":"#e97e50","strokeWidth":1},"encoding":{"x":{"field":"t","type":"quantitative","scale":{"domain":[0,600],"nice":false},"axis":null}}},
{"data":{"name":"vtA"},"mark":{"type":"line","color":"#000000","strokeWidth":1.8,"clip":true},"encoding":{"x":{"field":"t","type":"quantitative","scale":{"domain":[0,600],"nice":false},"axis":{"values":[0,50,100,150,200,250,300,350,400,450,500,550,600],"title":null}},"y":{"field":"v","type":"quantitative","scale":{"domain":[-0.2,0.2],"nice":false},"axis":{"values":[-0.2,0,0.2],"format":".1~f","title":"ΔVₜ"}}}},
{"data":{"name":"vtA"},"mark":{"type":"line","opacity":0,"clip":true},"encoding":{"x":{"field":"t","type":"quantitative","scale":{"domain":[0,600],"nice":false},"axis":{"orient":"top","labels":false,"values":[0,50,100,150,200,250,300,350,400,450,500,550,600],"title":null}},"y":{"field":"v","type":"quantitative","scale":{"domain":[-0.2,0.2],"nice":false},"axis":{"orient":"right","labels":false,"values":[-0.2,0,0.2],"title":null}}}}
],"resolve":{"axis":{"x":"independent","y":"independent"}}},
{"width":452,"height":93,
"layer":[
{"data":{"name":"evA"},"mark":{"type":"rule","color":"#e97e50","strokeWidth":1},"encoding":{"x":{"field":"t","type":"quantitative","scale":{"domain":[0,600],"nice":false},"axis":null}}},
{"data":{"name":"fbvA"},"mark":{"type":"line","color":"#000000","strokeWidth":1.3,"clip":true},"encoding":{"x":{"field":"t","type":"quantitative","scale":{"domain":[0,600],"nice":false},"axis":{"values":[0,50,100,150,200,250,300,350,400,450,500,550,600],"title":"Time (sec)"}},"y":{"field":"v","type":"quantitative","scale":{"domain":[-80,50],"nice":false},"axis":{"values":[-80,-60,-40,-20,0,20,40],"labelFontSize":13.5,"title":"ΔFBV","titleY":46}}}},
{"data":{"name":"fbvA"},"mark":{"type":"line","opacity":0,"clip":true},"encoding":{"x":{"field":"t","type":"quantitative","scale":{"domain":[0,600],"nice":false},"axis":{"orient":"top","labels":false,"values":[0,50,100,150,200,250,300,350,400,450,500,550,600],"title":null}},"y":{"field":"v","type":"quantitative","scale":{"domain":[-80,50],"nice":false},"axis":{"orient":"right","labels":false,"values":[-80,-60,-40,-20,0,20,40],"title":null}}}}
],"resolve":{"axis":{"x":"independent","y":"independent"}}}
]},
{"bounds":"flush","spacing":39,"vconcat":[
{"width":447,"height":90,"title":{"text":"(b) SCD","frame":"group","anchor":"middle","offset":7},
"layer":[
{"data":{"name":"evB"},"mark":{"type":"rule","color":"#e97e50","strokeWidth":1},"encoding":{"x":{"field":"t","type":"quantitative","scale":{"domain":[0,600],"nice":false},"axis":null}}},
{"data":{"name":"tempB"},"mark":{"type":"line","color":"#000000","strokeWidth":1.3},"encoding":{"x":{"field":"t","type":"quantitative","scale":{"domain":[0,600],"nice":false},"axis":{"values":[0,50,100,150,200,250,300,350,400,450,500,550,600],"title":null}},"y":{"field":"v","type":"quantitative","scale":{"domain":[0,25],"nice":false},"axis":{"values":[0,5,10,15,20,25],"title":null}}}},
{"data":{"name":"tempB"},"mark":{"type":"line","opacity":0,"clip":true},"encoding":{"x":{"field":"t","type":"quantitative","scale":{"domain":[0,600],"nice":false},"axis":{"orient":"top","labels":false,"values":[0,50,100,150,200,250,300,350,400,450,500,550,600],"title":null}},"y":{"field":"v","type":"quantitative","scale":{"domain":[0,25],"nice":false},"axis":{"orient":"right","labels":false,"values":[0,5,10,15,20,25],"title":null}}}}
],"resolve":{"axis":{"x":"independent","y":"independent"}}},
{"width":447,"height":93,
"layer":[
{"data":{"name":"evB"},"mark":{"type":"rule","color":"#e97e50","strokeWidth":1},"encoding":{"x":{"field":"t","type":"quantitative","scale":{"domain":[0,600],"nice":false},"axis":null}}},
{"data":{"name":"mapB"},"mark":{"type":"line","color":"#000000","strokeWidth":1.3,"clip":true},"encoding":{"x":{"field":"t","type":"quantitative","scale":{"domain":[0,600],"nice":false},"axis":{"values":[0,50,100,150,200,250,300,350,400,450,500,550,600],"title":null}},"y":{"field":"v","type":"quantitative","scale":{"domain":[-20,20],"nice":false},"axis":{"values":[-20,-10,0,10,20],"title":null}}}},
{"data":{"name":"mapB"},"mark":{"type":"line","opacity":0,"clip":true},"encoding":{"x":{"field":"t","type":"quantitative","scale":{"domain":[0,600],"nice":false},"axis":{"orient":"top","labels":false,"values":[0,50,100,150,200,250,300,350,400,450,500,550,600],"title":null}},"y":{"field":"v","type":"quantitative","scale":{"domain":[-20,20],"nice":false},"axis":{"orient":"right","labels":false,"values":[-20,-10,0,10,20],"title":null}}}}
],"resolve":{"axis":{"x":"independent","y":"independent"}}},
{"width":447,"height":90,
"layer":[
{"data":{"name":"evB"},"mark":{"type":"rule","color":"#e97e50","strokeWidth":1},"encoding":{"x":{"field":"t","type":"quantitative","scale":{"domain":[0,600],"nice":false},"axis":null}}},
{"data":{"name":"vtB"},"mark":{"type":"line","color":"#000000","strokeWidth":1.3,"clip":true},"encoding":{"x":{"field":"t","type":"quantitative","scale":{"domain":[0,600],"nice":false},"axis":{"values":[0,50,100,150,200,250,300,350,400,450,500,550,600],"title":null}},"y":{"field":"v","type":"quantitative","scale":{"domain":[-0.2,0.2],"nice":false},"axis":{"values":[-0.2,0,0.2],"format":".1~f","title":null}}}},
{"data":{"name":"vtB"},"mark":{"type":"line","opacity":0,"clip":true},"encoding":{"x":{"field":"t","type":"quantitative","scale":{"domain":[0,600],"nice":false},"axis":{"orient":"top","labels":false,"values":[0,50,100,150,200,250,300,350,400,450,500,550,600],"title":null}},"y":{"field":"v","type":"quantitative","scale":{"domain":[-0.2,0.2],"nice":false},"axis":{"orient":"right","labels":false,"values":[-0.2,0,0.2],"title":null}}}}
],"resolve":{"axis":{"x":"independent","y":"independent"}}},
{"width":447,"height":93,
"layer":[
{"data":{"name":"evB"},"mark":{"type":"rule","color":"#e97e50","strokeWidth":1},"encoding":{"x":{"field":"t","type":"quantitative","scale":{"domain":[0,600],"nice":false},"axis":null}}},
{"data":{"name":"fbvB"},"mark":{"type":"line","color":"#000000","strokeWidth":1.3,"clip":true},"encoding":{"x":{"field":"t","type":"quantitative","scale":{"domain":[0,600],"nice":false},"axis":{"values":[0,50,100,150,200,250,300,350,400,450,500,550,600],"title":"Time (sec)"}},"y":{"field":"v","type":"quantitative","scale":{"domain":[-80,50],"nice":false},"axis":{"values":[-80,-60,-40,-20,0,20,40],"labelFontSize":13.5,"title":null}}}},
{"data":{"name":"fbvB"},"mark":{"type":"line","opacity":0,"clip":true},"encoding":{"x":{"field":"t","type":"quantitative","scale":{"domain":[0,600],"nice":false},"axis":{"orient":"top","labels":false,"values":[0,50,100,150,200,250,300,350,400,450,500,550,600],"title":null}},"y":{"field":"v","type":"quantitative","scale":{"domain":[-80,50],"nice":false},"axis":{"orient":"right","labels":false,"values":[-80,-60,-40,-20,0,20,40],"title":null}}}}
],"resolve":{"axis":{"x":"independent","y":"independent"}}}
]}
]
}
